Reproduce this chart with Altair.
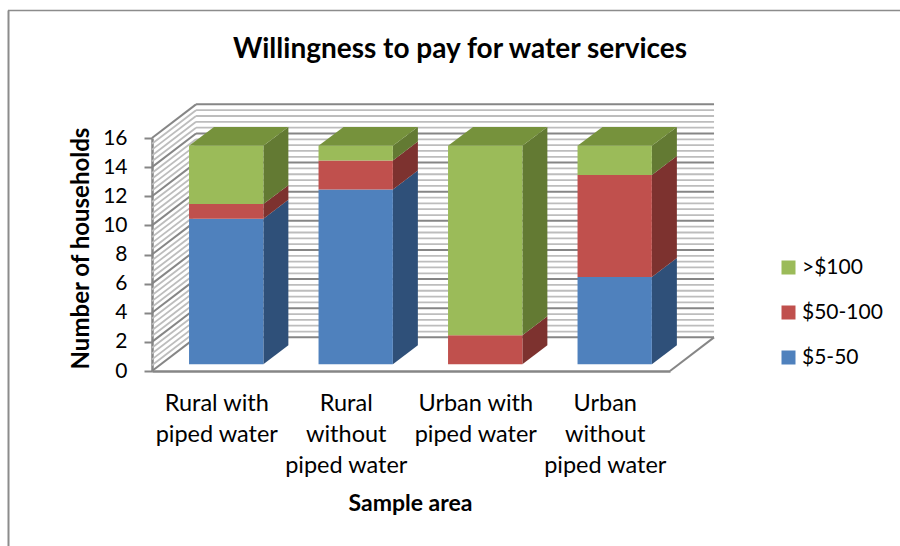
import altair as alt
import pandas as pd

# Household counts per sample area, stacked from the bottom up
categories = ["Rural with\npiped water", "Rural\nwithout\npiped water",
              "Urban with\npiped water", "Urban\nwithout\npiped water"]
band_low = [10, 12, 0, 6]     # $5-50
band_mid = [1, 2, 2, 7]       # $50-100
band_high = [4, 1, 13, 2]     # >$100
series_names = ["$5-50", "$50-100", ">$100"]
legend_order = [">$100", "$50-100", "$5-50"]

front_colors = {"$5-50": "#4F81BD", "$50-100": "#C0504D", ">$100": "#9BBB59"}
side_colors = {"$5-50": "#2F5079", "$50-100": "#7D322F", ">$100": "#637A33"}
top_color = "#76923C"

FONT = "Lato"
GREY = "#868686"

# Oblique projection, in data units: walls recede by (WALL_DX, WALL_DY),
# bars sit BAR_LIFT above the floor edge and are BAR_DX/BAR_DY deep.
WALL_DX, WALL_DY = 0.34, 2.31
BAR_DX, BAR_DY = 0.193, 1.30
BAR_SHIFT_X, BAR_LIFT = 0.286, 0.46
BAR_WIDTH = 0.574

front_rows, side_rows, top_rows = [], [], []
for i in range(len(categories)):
    x0 = i + BAR_SHIFT_X
    x1 = x0 + BAR_WIDTH
    base = BAR_LIFT
    for name, vals in zip(series_names, [band_low, band_mid, band_high]):
        v = vals[i]
        if v == 0:
            continue
        lo, hi = base, base + v
        front_rows.append(dict(x=x0, x2=x1, y=lo, y2=hi, series=name))
        face = f"{i}-{name}"
        side_rows += [
            dict(face=face, series=name, x=x1, y=lo, y2=hi),
            dict(face=face, series=name, x=x1 + BAR_DX, y=lo + BAR_DY, y2=hi + BAR_DY),
        ]
        base = hi
    top_rows += [
        dict(face=i, x=x0, y=base, y2=base),
        dict(face=i, x=x0 + BAR_DX, y=base, y2=base + BAR_DY),
        dict(face=i, x=x1, y=base, y2=base + BAR_DY),
        dict(face=i, x=x1 + BAR_DX, y=base + BAR_DY, y2=base + BAR_DY),
    ]

# Wall rulings: five divisions per axis step, heavier on the labelled values
minor_rows, major_rows = [], []
for k in range(0, 41):
    v = k * 0.4
    rows = major_rows if k % 5 == 0 else minor_rows
    rows.append(dict(x=0, x2=WALL_DX, y=v, y2=v + WALL_DY))
    rows.append(dict(x=WALL_DX, x2=4 + WALL_DX, y=v + WALL_DY, y2=v + WALL_DY))
major_rows.append(dict(x=4, x2=4 + WALL_DX, y=0, y2=WALL_DY))

xs = alt.Scale(domain=[0, 4], nice=False, zero=False)
ys = alt.Scale(domain=[0, 16], nice=False, zero=False)

x_axis = alt.Axis(
    title="Sample area", labels=False, ticks=False, grid=False,
    domainColor=GREY, domainWidth=2.5,
    titleFont=FONT, titleFontSize=23, titleFontWeight="bold", titleColor="#000000",
    titleX=258, titleY=132, titleBaseline="middle",
)
y_axis = alt.Axis(
    title="Number of households", values=list(range(0, 17, 2)), grid=False,
    domainColor=GREY, domainWidth=2.5, tickColor=GREY, tickWidth=2, tickSize=8,
    labelFont=FONT, labelFontSize=21, labelColor="#000000", labelPadding=17,
    titleFont=FONT, titleFontSize=24, titleFontWeight="bold", titleColor="#000000",
    titleX=-71, titleY=110, titleBaseline="middle",
)
X = alt.X("x:Q", scale=xs, axis=x_axis)
Y = alt.Y("y:Q", scale=ys, axis=y_axis, stack=None)


def rules(rows, color, width):
    return alt.Chart(pd.DataFrame(rows)).mark_rule(color=color, strokeWidth=width).encode(
        x=X, x2="x2:Q", y=Y, y2="y2:Q",
    )


minor = rules(minor_rows, "#BDBDBD", 1.8)
major = rules(major_rows, GREY, 2)

sides = alt.Chart(pd.DataFrame(side_rows)).mark_area(orient="vertical", opacity=1).encode(
    x=X, y=Y, y2="y2:Q",
    detail="face:N",
    color=alt.Color("series:N", legend=None, scale=alt.Scale(
        domain=series_names, range=[side_colors[s] for s in series_names])),
)

tops = alt.Chart(pd.DataFrame(top_rows)).mark_area(
    orient="vertical", opacity=1, color=top_color
).encode(
    x=X, y=Y, y2="y2:Q",
    detail="face:N",
)

fronts = alt.Chart(pd.DataFrame(front_rows)).mark_rect().encode(
    x=X, x2="x2:Q", y=Y, y2="y2:Q",
    color=alt.Color("series:N", scale=alt.Scale(
        domain=legend_order, range=[front_colors[s] for s in legend_order]),
        legend=alt.Legend(
            title=None, orient="none", legendX=626, legendY=119, symbolType="square",
            symbolSize=196, symbolStrokeWidth=0, labelFont=FONT, labelFontSize=21,
            labelColor="#000000", rowPadding=23, labelOffset=3, labelLimit=200,
        )),
)

category_labels = alt.Chart(pd.DataFrame({
    "x": [i + 0.5 for i in range(len(categories))],
    "label": categories,
})).mark_text(
    lineBreak="\n", lineHeight=31, baseline="top", align="center",
    font=FONT, fontSize=23.5, color="#000000",
).encode(
    x=X,
    y=alt.value(254),
    text="label:N",
)

chart_title = alt.Chart(pd.DataFrame({"label": ["Willingness to pay for water services"]})).mark_text(
    font=FONT, fontSize=28, fontWeight="bold", color="#000000", align="center", baseline="middle",
).encode(x=alt.value(308), y=alt.value(-88), text="label:N")

# Outer chart frame, drawn along the top and left only
frame_top = alt.Chart(pd.DataFrame({"k": [0]})).mark_rule(color="#8C8C8C", strokeWidth=1.5).encode(
    x=alt.value(-144), x2=alt.value(748), y=alt.value(-127.5),
)
frame_left = alt.Chart(pd.DataFrame({"k": [0]})).mark_rule(color="#8C8C8C", strokeWidth=2).encode(
    x=alt.value(-143.5), y=alt.value(-127.5), y2=alt.value(408),
)

chart = alt.layer(
    minor, major, sides, tops, fronts, category_labels, chart_title, frame_top, frame_left
).resolve_scale(color="independent").properties(
    width=518,
    height=233,
    padding={"left": 152, "top": 138, "right": 230, "bottom": 175},
    autosize=alt.AutoSizeParams(type="none"),
).configure_view(stroke=None)

chart.save("out.html", embed_options={"renderer": "svg", "actions": False})
